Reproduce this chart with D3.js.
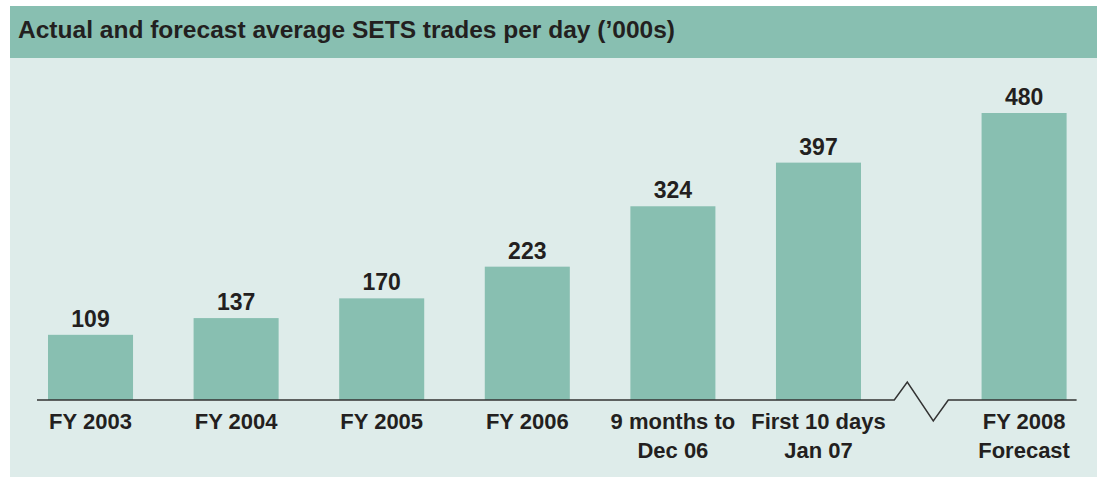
<!DOCTYPE html>
<html>
<head>
<meta charset="utf-8">
<script src="https://cdn.jsdelivr.net/npm/d3@7"></script>
<style>
  body { margin: 0; background: #ffffff; }
  svg { display: block; }
</style>
</head>
<body>
<div id="chart"><svg></svg></div>
<script>
// data
const categories = ['FY 2003', 'FY 2004', 'FY 2005', 'FY 2006', '9 months to|Dec 06', 'First 10 days|Jan 07', 'FY 2008|Forecast']
const values = [109, 137, 170, 223, 324, 397, 480]
const forecast = [false, false, false, false, false, false, true]
const title = 'Actual and forecast average SETS trades per day (\u2019000s)'

const width = 1104
const height = 477
const barColor = '#88bfb1'
const bgColor = '#deecea'
const textColor = '#231f20'
const font = 'Liberation Sans, Arial, sans-serif'

const svg = d3.select('#chart').select('svg')
  .attr('width', width)
  .attr('height', height)

// background panels
svg.append('rect')
  .attr('x', 10).attr('y', 58)
  .attr('width', 1087).attr('height', height - 58)
  .attr('fill', bgColor)

svg.append('rect')
  .attr('x', 10).attr('y', 6)
  .attr('width', 1087).attr('height', 52)
  .attr('fill', barColor)

svg.append('text')
  .text(title)
  .attr('x', 18)
  .attr('y', 38)
  .attr('fill', textColor)
  .attr('font-family', 'Liberation Sans Narrow, Liberation Sans, Arial, sans-serif')
  .attr('font-size', 23)
  .attr('font-weight', 'bold')
  .attr('textLength', 657)
  .attr('lengthAdjust', 'spacingAndGlyphs')

// scales
const breakGap = 60
const xScale = d3.scaleBand()
  .domain(categories)
  .range([48, 1006.6])
  .paddingInner(0.416)
  .paddingOuter(0)

const xPos = (d, i) => xScale(d) + (forecast[i] ? breakGap : 0)

const baseY = 400
const yScale = d3.scaleLinear()
  .domain([0, 480])
  .range([baseY, 113])

const g = svg.append('g')

// bars
g.selectAll('rect.bar')
  .data(categories)
  .join('rect')
  .attr('class', 'bar')
  .attr('x', (d, i) => xPos(d, i))
  .attr('y', (d, i) => yScale(values[i]))
  .attr('width', xScale.bandwidth())
  .attr('height', (d, i) => baseY - yScale(values[i]))
  .attr('fill', barColor)

// value labels
g.selectAll('text.value')
  .data(categories)
  .join('text')
  .attr('class', 'value')
  .attr('x', (d, i) => xPos(d, i) + xScale.bandwidth() / 2)
  .attr('y', (d, i) => yScale(values[i]) - 8)
  .attr('text-anchor', 'middle')
  .attr('fill', textColor)
  .attr('font-family', font)
  .attr('font-size', 23)
  .attr('font-weight', 'bold')
  .text((d, i) => values[i])

// axis line with a break before the forecast bar
const lastActual = categories.length - 2
const breakMid = (xScale(categories[lastActual]) + xScale.bandwidth() +
  xPos(categories[lastActual + 1], lastActual + 1)) / 2
const axisLeft = 37
const axisRight = xPos(categories[6], 6) + xScale.bandwidth() + 10

g.append('path')
  .attr('d', d3.line()([
    [axisLeft, baseY],
    [breakMid - 27, baseY],
    [breakMid - 14, baseY - 18],
    [breakMid + 12, baseY + 21],
    [breakMid + 27, baseY],
    [axisRight, baseY]
  ]))
  .attr('fill', 'none')
  .attr('stroke', '#333333')
  .attr('stroke-width', 1.5)

// category labels
const labels = g.selectAll('text.cat')
  .data(categories)
  .join('text')
  .attr('class', 'cat')
  .attr('text-anchor', 'middle')
  .attr('fill', textColor)
  .attr('font-family', font)
  .attr('font-size', 22)
  .attr('font-weight', 'bold')

labels.each(function (d, i) {
  const cx = xPos(d, i) + xScale.bandwidth() / 2
  d.split('|').forEach((line, j) => {
    d3.select(this).append('tspan')
      .attr('x', cx)
      .attr('y', 429 + j * 29)
      .text(line)
  })
})
</script>
</body>
</html>
